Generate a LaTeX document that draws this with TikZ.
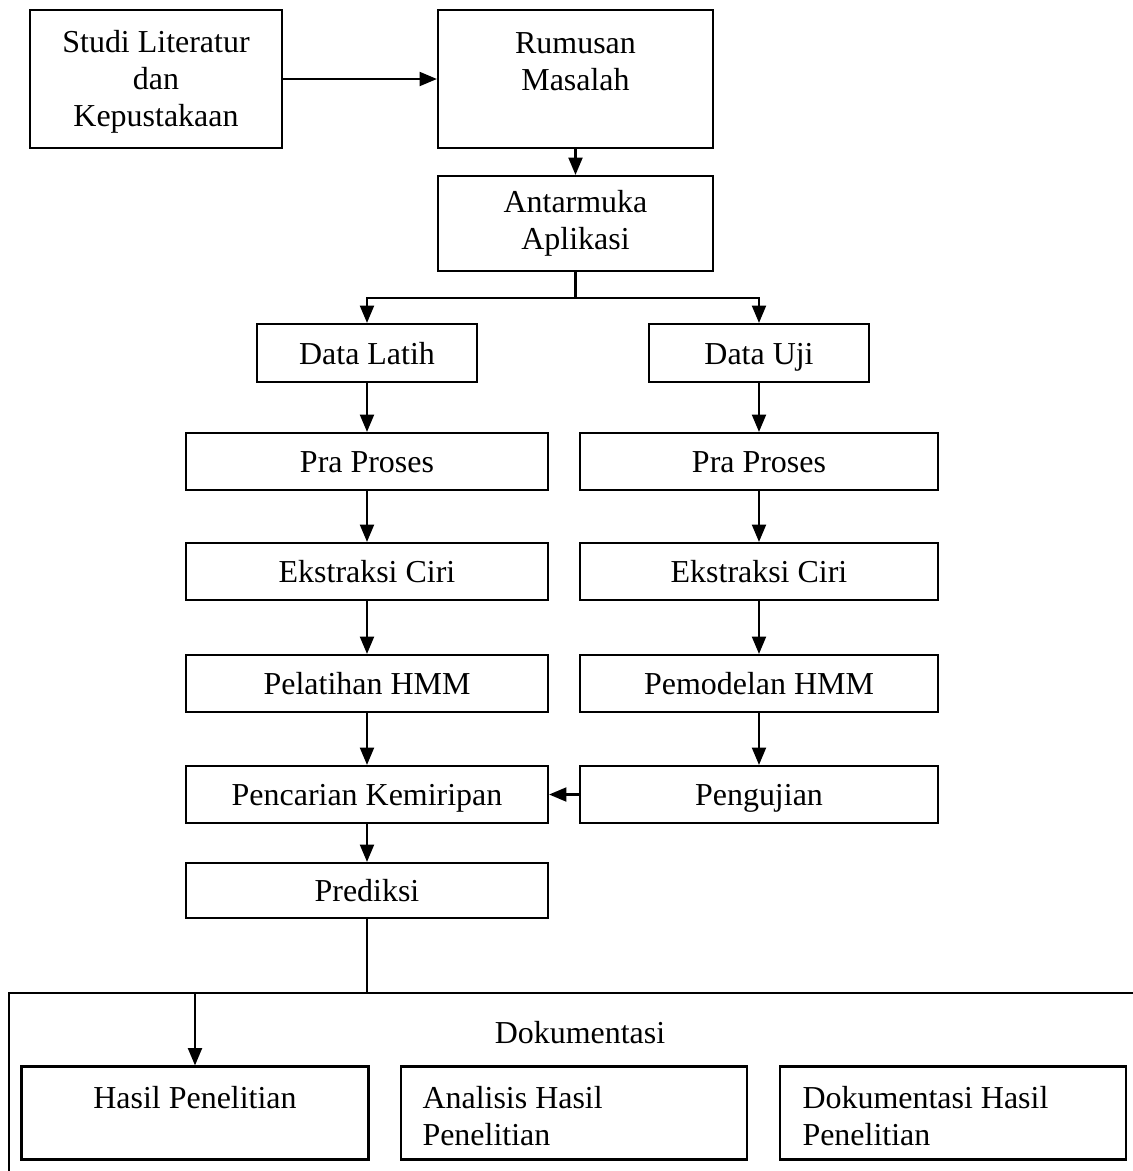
\documentclass[tikz,border=0pt]{standalone}
\usepackage{fontspec}
\setmainfont{Liberation Serif}
\usepackage{tikz}
\usetikzlibrary{arrows.meta,positioning,calc}

\def\pxu{0.0132cm}

\begin{document}
\begin{tikzpicture}[x=0.0132cm, y=-0.0132cm,
    every node/.style={font=\fontsize{12}{13.8}\selectfont},
    box/.style={draw, line width=0.8pt, inner sep=0pt, align=center},
    one/.style={text height=8.6pt, text depth=0pt},
    txt/.style={inner sep=0pt, align=left},
    arr/.style={line width=0.9pt, -{Triangle[length=6.5pt, width=5.2pt]}},
    link/.style={line width=1pt}]
  \useasboundingbox (0,0) rectangle (1132,1171);

  %% Top row
  \node[box, minimum width=252*\pxu, minimum height=138*\pxu] (studi) at (156,79) {};
  \node[txt, align=center] (studitxt) at (156,82) {Studi Literatur\\dan\\Kepustakaan};
  \node[box, minimum width=275*\pxu, minimum height=138*\pxu] (rumusan) at (575.5,79) {};
  \node[txt, align=center] (rumusantxt) at (575.5,62) {Rumusan\\Masalah};
  \node[box, minimum width=275*\pxu, minimum height=95*\pxu] (antarmuka) at (575.5,223.5)
    {Antarmuka\\Aplikasi};

  %% Two branches
  \node[box, one, minimum width=220*\pxu, minimum height=58*\pxu] (latih) at (367,353) {Data Latih};
  \node[box, one, minimum width=220*\pxu, minimum height=58*\pxu] (uji) at (759,353) {Data Uji};

  \node[box, one, minimum width=362*\pxu, minimum height=57*\pxu] (prosesL) at (367,461.5) {Pra Proses};
  \node[box, one, minimum width=358*\pxu, minimum height=57*\pxu] (prosesU) at (759,461.5) {Pra Proses};
  \node[box, one, minimum width=362*\pxu, minimum height=57*\pxu] (ciriL) at (367,571.5) {Ekstraksi Ciri};
  \node[box, one, minimum width=358*\pxu, minimum height=57*\pxu] (ciriU) at (759,571.5) {Ekstraksi Ciri};
  \node[box, one, minimum width=362*\pxu, minimum height=57*\pxu] (pelatihan) at (367,683.5) {Pelatihan HMM};
  \node[box, one, minimum width=358*\pxu, minimum height=57*\pxu] (pemodelan) at (759,683.5) {Pemodelan HMM};
  \node[box, one, minimum width=362*\pxu, minimum height=57*\pxu] (pencarian) at (367,794.5) {Pencarian Kemiripan};
  \node[box, one, minimum width=358*\pxu, minimum height=57*\pxu] (pengujian) at (759,794.5) {Pengujian};
  \node[box, one, minimum width=362*\pxu, minimum height=55*\pxu] (prediksi) at (367,890.5) {Prediksi};

  %% Dokumentasi frame (runs off the page)
  \draw[line width=0.7pt] (1150,993) -- (9,993) -- (9,1190);
  \node (dok) at (580,1033) {Dokumentasi};
  \node[box, minimum width=347*\pxu, minimum height=93*\pxu] (hasil) at (195,1113) {};
  \node[txt] (hasiltxt) at (195,1098) {Hasil Penelitian};
  \node[box, minimum width=346*\pxu, minimum height=93*\pxu] (analisis) at (574,1113) {};
  \node[txt, anchor=west] (analisistxt) at (422,1116) {Analisis Hasil\\Penelitian};
  \node[box, minimum width=346*\pxu, minimum height=93*\pxu] (dokhasil) at (953,1113) {};
  \node[txt, anchor=west] (dokhasiltxt) at (802,1116) {Dokumentasi Hasil\\Penelitian};

  %% Connectors
  \draw[arr] (studi.east) -- (rumusan.west);
  \draw[arr] (rumusan.south) -- (antarmuka.north);
  \coordinate (split) at (575.5,298);
  \draw[link] (antarmuka.south) -- (split);
  \draw[arr] (split) -| (latih.north);
  \draw[arr] (split) -| (uji.north);
  \foreach \a/\b in {latih/prosesL, prosesL/ciriL, ciriL/pelatihan, pelatihan/pencarian,
                     pencarian/prediksi, uji/prosesU, prosesU/ciriU, ciriU/pemodelan,
                     pemodelan/pengujian}{
    \draw[arr] (\a.south) -- (\b.north);
  }
  \draw[arr] (pengujian.west) -- (pencarian.east);
  \coordinate (turn) at (367,993);
  \draw[link] (prediksi.south) -- (turn);
  \draw[arr] (turn) -| (hasil.north);
\end{tikzpicture}
\end{document}
